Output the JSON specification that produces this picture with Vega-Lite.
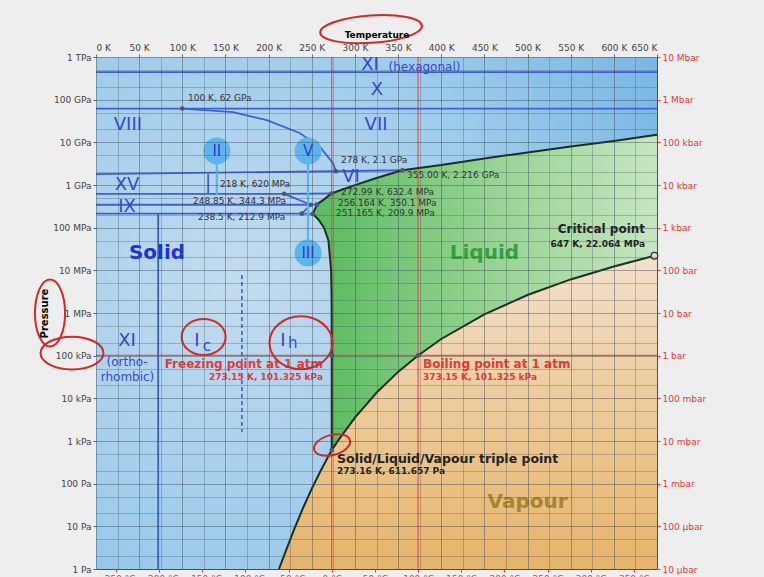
{
  "$schema": "https://vega.github.io/schema/vega-lite/v6.json",
  "width": 561,
  "height": 512,
  "autosize": {"type": "none"},
  "padding": {"left": 96, "top": 57, "right": 107, "bottom": 8},
  "background": "#eeeeee",
  "config": {"font": "DejaVu Sans", "view": {"stroke": "#555555", "strokeWidth": 1}},
  "resolve": {"axis": {"x": "independent", "y": "independent"}},
  "datasets": {
    "vap": [
      {"T": 212, "P": 1}, {"T": 220, "P": 2.65}, {"T": 230, "P": 8.9}, {"T": 240, "P": 27.3},
      {"T": 250, "P": 76}, {"T": 260, "P": 196}, {"T": 270, "P": 470}, {"T": 273.16, "P": 611.657},
      {"T": 280, "P": 991.8}, {"T": 300, "P": 3536}, {"T": 325, "P": 13500}, {"T": 350, "P": 41700},
      {"T": 373.15, "P": 101325}, {"T": 400, "P": 245800}, {"T": 450, "P": 932000}, {"T": 500, "P": 2640000},
      {"T": 550, "P": 6120000}, {"T": 600, "P": 12350000}, {"T": 647, "P": 22064000}
    ],
    "vapArea": [
      {"T": 212, "P": 1}, {"T": 220, "P": 2.65}, {"T": 230, "P": 8.9}, {"T": 240, "P": 27.3},
      {"T": 250, "P": 76}, {"T": 260, "P": 196}, {"T": 270, "P": 470}, {"T": 273.16, "P": 611.657},
      {"T": 280, "P": 991.8}, {"T": 300, "P": 3536}, {"T": 325, "P": 13500}, {"T": 350, "P": 41700},
      {"T": 373.15, "P": 101325}, {"T": 400, "P": 245800}, {"T": 450, "P": 932000}, {"T": 500, "P": 2640000},
      {"T": 550, "P": 6120000}, {"T": 600, "P": 12350000}, {"T": 647, "P": 22064000}, {"T": 650, "P": 22064000}
    ],
    "green": [
      {"T": 251.165, "P": 2.099e8, "P2": 2.099e8},
      {"T": 252.3, "P": 2.0e8, "P2": 2.4e8},
      {"T": 256.164, "P": 1.68e8, "P2": 3.501e8},
      {"T": 258.3, "P": 1.5e8, "P2": 3.8e8},
      {"T": 264.2, "P": 1.0e8, "P2": 4.6e8},
      {"T": 269.3, "P": 5e7, "P2": 5.6e8},
      {"T": 272.4, "P": 1e7, "P2": 6.2e8},
      {"T": 272.99, "P": 2.3e6, "P2": 6.324e8},
      {"T": 273.15, "P": 101325, "P2": 6.35e8},
      {"T": 273.16, "P": 611.657, "P2": 6.35e8},
      {"T": 280, "P": 991.8, "P2": 7.12e8},
      {"T": 300, "P": 3536, "P2": 9.96e8},
      {"T": 325, "P": 13500, "P2": 1.46e9},
      {"T": 350, "P": 41700, "P2": 2.07e9},
      {"T": 355, "P": 51600, "P2": 2.216e9},
      {"T": 373.15, "P": 101325, "P2": 2.52e9},
      {"T": 400, "P": 245800, "P2": 2.95e9},
      {"T": 450, "P": 932000, "P2": 4.2e9},
      {"T": 500, "P": 2640000, "P2": 5.8e9},
      {"T": 550, "P": 6120000, "P2": 8e9},
      {"T": 600, "P": 12350000, "P2": 1.07e10},
      {"T": 647, "P": 22064000, "P2": 1.45e10},
      {"T": 650, "P": 22064000, "P2": 1.5e10}
    ],
    "melt": [
      {"o": 1, "T": 273.16, "P": 611.657}, {"o": 2, "T": 273.15, "P": 101325}, {"o": 3, "T": 272.99, "P": 2.3e6},
      {"o": 4, "T": 272.4, "P": 1e7}, {"o": 5, "T": 269.3, "P": 5e7}, {"o": 6, "T": 264.2, "P": 1e8},
      {"o": 7, "T": 258.3, "P": 1.5e8}, {"o": 8, "T": 252.3, "P": 2e8}, {"o": 9, "T": 251.165, "P": 2.099e8},
      {"o": 10, "T": 256.164, "P": 3.501e8}, {"o": 11, "T": 264.2, "P": 4.6e8}, {"o": 12, "T": 272.99, "P": 6.324e8},
      {"o": 13, "T": 280, "P": 7.12e8}, {"o": 14, "T": 300, "P": 9.96e8}, {"o": 15, "T": 325, "P": 1.46e9},
      {"o": 16, "T": 350, "P": 2.07e9}, {"o": 17, "T": 355, "P": 2.216e9}, {"o": 18, "T": 400, "P": 2.95e9},
      {"o": 19, "T": 450, "P": 4.2e9}, {"o": 20, "T": 500, "P": 5.8e9}, {"o": 21, "T": 550, "P": 8e9},
      {"o": 22, "T": 600, "P": 1.07e10}, {"o": 23, "T": 650, "P": 1.5e10}
    ],
    "seg": [
      {"seg": "a", "o": 1, "T": 0, "P": 4.4e11}, {"seg": "a", "o": 2, "T": 650, "P": 4.4e11},
      {"seg": "b", "o": 1, "T": 0, "P": 6.2e10}, {"seg": "b", "o": 2, "T": 650, "P": 6.2e10},
      {"seg": "c", "o": 1, "T": 100, "P": 6.2e10}, {"seg": "c", "o": 2, "T": 158.7, "P": 5.1e10},
      {"seg": "c", "o": 3, "T": 198, "P": 3.3e10}, {"seg": "c", "o": 4, "T": 236, "P": 1.66e10},
      {"seg": "c", "o": 5, "T": 259.6, "P": 7.8e9}, {"seg": "c", "o": 6, "T": 274.6, "P": 3.25e9},
      {"seg": "c", "o": 7, "T": 278, "P": 2.1e9},
      {"seg": "d", "o": 1, "T": 0, "P": 1.8e9}, {"seg": "d", "o": 2, "T": 278, "P": 2.1e9}, {"seg": "d", "o": 3, "T": 355, "P": 2.216e9},
      {"seg": "e", "o": 1, "T": 0, "P": 6.2e8}, {"seg": "e", "o": 2, "T": 218, "P": 6.2e8}, {"seg": "e", "o": 3, "T": 272.99, "P": 6.324e8},
      {"seg": "f", "o": 1, "T": 130, "P": 6.2e8}, {"seg": "f", "o": 2, "T": 130, "P": 1.8e9},
      {"seg": "g", "o": 1, "T": 218, "P": 6.2e8}, {"seg": "g", "o": 2, "T": 248.85, "P": 3.443e8},
      {"seg": "h", "o": 1, "T": 0, "P": 3.44e8}, {"seg": "h", "o": 2, "T": 248.85, "P": 3.443e8}, {"seg": "h", "o": 3, "T": 256.164, "P": 3.501e8},
      {"seg": "i", "o": 1, "T": 0, "P": 2.13e8}, {"seg": "i", "o": 2, "T": 238.5, "P": 2.129e8}, {"seg": "i", "o": 3, "T": 251.165, "P": 2.099e8},
      {"seg": "j", "o": 1, "T": 238.5, "P": 2.129e8}, {"seg": "j", "o": 2, "T": 248.85, "P": 3.443e8},
      {"seg": "k", "o": 1, "T": 72, "P": 1}, {"seg": "k", "o": 2, "T": 72, "P": 2.13e8}
    ],
    "pts": [
      {"T": 100, "P": 6.2e10}, {"T": 278, "P": 2.1e9}, {"T": 355, "P": 2.216e9}, {"T": 218, "P": 6.2e8},
      {"T": 272.99, "P": 6.324e8}, {"T": 248.85, "P": 3.443e8}, {"T": 256.164, "P": 3.501e8},
      {"T": 238.5, "P": 2.129e8}, {"T": 251.165, "P": 2.099e8}, {"T": 273.16, "P": 611.657},
      {"T": 273.15, "P": 101325}, {"T": 373.15, "P": 101325}
    ],
    "circ": [
      {"T": 140, "P": 6.3e9, "label": "II"}, {"T": 245.7, "P": 6.3e9, "label": "V"}, {"T": 245.7, "P": 2.54e7, "label": "III"}
    ]
  },
  "layer": [
    {
      "data": {"values": [{"T": 0, "T2": 650, "P": 1, "P2": 1e12}]},
      "mark": {"type": "rect", "color": {"gradient": "radial", "x1": 0.25, "y1": 0.45, "r1": 0, "x2": 0.25, "y2": 0.45, "r2": 1.0,
        "stops": [{"offset": 0, "color": "#c3dcef"}, {"offset": 0.5, "color": "#9ccbeb"}, {"offset": 1, "color": "#6aaee0"}]}},
      "encoding": {
        "x": {"field": "T", "type": "quantitative", "scale": {"domain": [0, 650], "nice": false, "zero": false},
          "axis": {"orient": "top", "values": [0, 50, 100, 150, 200, 250, 300, 350, 400, 450, 500, 550, 600, 650],
            "labelExpr": "datum.value + ' K'", "title": "Temperature", "titleFontWeight": "bold", "titleFontSize": 9,
            "titlePadding": 4, "labelFontSize": 9, "labelColor": "#444444", "tickSize": 3, "tickColor": "#666666",
            "domain": false, "grid": true, "gridColor": "#3e4a56", "gridOpacity": 0.45, "zindex": 1}},
        "x2": {"field": "T2"},
        "y": {"field": "P", "type": "quantitative", "scale": {"type": "log", "domain": [1, 1e12], "nice": false},
          "axis": {"orient": "left", "values": [1, 10, 100, 1000, 10000, 100000, 1000000, 10000000, 100000000, 1000000000, 10000000000, 100000000000, 1000000000000],
            "labelExpr": "['1 Pa','10 Pa','100 Pa','1 kPa','10 kPa','100 kPa','1 MPa','10 MPa','100 MPa','1 GPa','10 GPa','100 GPa','1 TPa'][round(log(datum.value)/LN10)]",
            "title": "Pressure", "titleFontWeight": "bold", "titleFontSize": 10, "titlePadding": 3,
            "labelFontSize": 9, "labelColor": "#444444", "tickSize": 3, "tickColor": "#666666",
            "domain": false, "grid": true, "gridColor": "#3e4a56", "gridOpacity": 0.45, "zindex": 1}},
        "y2": {"field": "P2"}
      }
    },
    {
      "data": {"name": "vapArea"},
      "mark": {"type": "area", "color": {"gradient": "linear", "x1": 0, "y1": 0, "x2": 0, "y2": 1,
        "stops": [{"offset": 0, "color": "#f2e0cc"}, {"offset": 0.5, "color": "#ecca98"}, {"offset": 1, "color": "#e6b46a"}]}},
      "encoding": {
        "x": {"field": "T", "type": "quantitative", "scale": {"domain": [0, 650], "nice": false, "zero": false},
          "axis": {"orient": "bottom", "values": [23.15, 73.15, 123.15, 173.15, 223.15, 273.15, 323.15, 373.15, 423.15, 473.15, 523.15, 573.15, 623.15],
            "labelExpr": "format(datum.value - 273.15, 'd') + ' °C'", "labelColor": "#e23b3b", "labelFontSize": 9,
            "tickColor": "#e23b3b", "tickSize": 3, "labelPadding": 2, "domain": false, "grid": false, "title": null, "zindex": 1}},
        "y": {"field": "P", "type": "quantitative", "scale": {"type": "log", "domain": [1, 1e12], "nice": false},
          "axis": {"orient": "right", "values": [1, 10, 100, 1000, 10000, 100000, 1000000, 10000000, 100000000, 1000000000, 10000000000, 100000000000, 1000000000000],
            "labelExpr": "['10 µbar','100 µbar','1 mbar','10 mbar','100 mbar','1 bar','10 bar','100 bar','1 kbar','10 kbar','100 kbar','1 Mbar','10 Mbar'][round(log(datum.value)/LN10)]",
            "labelColor": "#e23b3b", "tickColor": "#e23b3b", "labelFontSize": 9, "tickSize": 3, "domain": false, "grid": false, "title": null, "zindex": 1}},
        "y2": {"datum": 1}
      }
    },
    {
      "data": {"name": "green"},
      "mark": {"type": "area", "color": {"gradient": "linear", "x1": 0, "y1": 0, "x2": 1, "y2": 0,
        "stops": [{"offset": 0, "color": "#58bb5e"}, {"offset": 0.45, "color": "#8fd08c"}, {"offset": 1, "color": "#c6e6c1"}]}},
      "encoding": {
        "x": {"field": "T", "type": "quantitative", "scale": {"domain": [0, 650], "nice": false, "zero": false},
          "axis": {"orient": "bottom", "values": [25, 75, 125, 175, 225, 275, 325, 375, 425, 475, 525, 575, 625],
            "labels": false, "ticks": false, "domain": false, "grid": true, "gridColor": "#3e4a56", "gridOpacity": 0.3, "title": null, "zindex": 1}},
        "y": {"field": "P", "type": "quantitative", "scale": {"type": "log", "domain": [1, 1e12], "nice": false},
          "axis": {"orient": "right", "values": [2, 5, 20, 50, 200, 500, 2e3, 5e3, 2e4, 5e4, 2e5, 5e5, 2e6, 5e6, 2e7, 5e7, 2e8, 5e8, 2e9, 5e9, 2e10, 5e10, 2e11, 5e11],
            "labels": false, "ticks": false, "domain": false, "grid": true, "gridColor": "#3e4a56", "gridOpacity": 0.3, "title": null, "zindex": 1}},
        "y2": {"field": "P2"}
      }
    },
    {
      "data": {"values": [{"T": 273.15}, {"T": 373.15}]},
      "mark": {"type": "rule", "color": "#e05555", "strokeWidth": 1.2},
      "encoding": {"x": {"field": "T", "type": "quantitative", "scale": {"domain": [0, 650], "nice": false, "zero": false}, "axis": null}}
    },
    {
      "data": {"values": [{"P": 101325}]},
      "mark": {"type": "rule", "color": "#e05555", "strokeWidth": 1.2},
      "encoding": {"y": {"field": "P", "type": "quantitative", "scale": {"type": "log", "domain": [1, 1e12], "nice": false}, "axis": null}}
    },
    {
      "data": {"name": "seg"},
      "mark": {"type": "line", "color": "#3f5fd6", "strokeWidth": 1.8},
      "encoding": {
        "x": {"field": "T", "type": "quantitative", "scale": {"domain": [0, 650], "nice": false, "zero": false}, "axis": null},
        "y": {"field": "P", "type": "quantitative", "scale": {"type": "log", "domain": [1, 1e12], "nice": false}, "axis": null},
        "detail": {"field": "seg"},
        "order": {"field": "o"}
      }
    },
    {
      "data": {"values": [{"T": 169, "P": 7.8e6, "P2": 1600}]},
      "mark": {"type": "rule", "color": "#3f5fd6", "strokeWidth": 1.6, "strokeDash": [4, 3]},
      "encoding": {
        "x": {"field": "T", "type": "quantitative", "scale": {"domain": [0, 650], "nice": false, "zero": false}, "axis": null},
        "y": {"field": "P", "type": "quantitative", "scale": {"type": "log", "domain": [1, 1e12], "nice": false}, "axis": null},
        "y2": {"field": "P2"}
      }
    },
    {
      "data": {"name": "vap"},
      "mark": {"type": "line", "color": "#1e2e22", "strokeWidth": 2},
      "encoding": {
        "x": {"field": "T", "type": "quantitative", "scale": {"domain": [0, 650], "nice": false, "zero": false}, "axis": null},
        "y": {"field": "P", "type": "quantitative", "scale": {"type": "log", "domain": [1, 1e12], "nice": false}, "axis": null}
      }
    },
    {
      "data": {"name": "melt"},
      "mark": {"type": "line", "color": "#1e2e22", "strokeWidth": 2},
      "encoding": {
        "x": {"field": "T", "type": "quantitative", "scale": {"domain": [0, 650], "nice": false, "zero": false}, "axis": null},
        "y": {"field": "P", "type": "quantitative", "scale": {"type": "log", "domain": [1, 1e12], "nice": false}, "axis": null},
        "order": {"field": "o"}
      }
    },
    {
      "data": {"values": [{"T": 140, "P": 6.3e9, "P2": 5.8e8}, {"T": 245.7, "P": 6.3e9, "P2": 2.54e7}]},
      "mark": {"type": "rule", "color": "#5cb5ee", "strokeWidth": 2.2},
      "encoding": {
        "x": {"field": "T", "type": "quantitative", "scale": {"domain": [0, 650], "nice": false, "zero": false}, "axis": null},
        "y": {"field": "P", "type": "quantitative", "scale": {"type": "log", "domain": [1, 1e12], "nice": false}, "axis": null},
        "y2": {"field": "P2"}
      }
    },
    {
      "data": {"name": "circ"},
      "mark": {"type": "point", "shape": "circle", "filled": true, "size": 729, "color": "#5cb5ee", "opacity": 1},
      "encoding": {
        "x": {"field": "T", "type": "quantitative", "scale": {"domain": [0, 650], "nice": false, "zero": false}, "axis": null},
        "y": {"field": "P", "type": "quantitative", "scale": {"type": "log", "domain": [1, 1e12], "nice": false}, "axis": null}
      }
    },
    {
      "data": {"name": "circ"},
      "mark": {"type": "text", "fontSize": 15, "color": "#2a3fc8", "align": "center", "baseline": "middle"},
      "encoding": {
        "x": {"field": "T", "type": "quantitative", "scale": {"domain": [0, 650], "nice": false, "zero": false}, "axis": null},
        "y": {"field": "P", "type": "quantitative", "scale": {"type": "log", "domain": [1, 1e12], "nice": false}, "axis": null},
        "text": {"field": "label"}
      }
    },
    {
      "data": {"name": "pts"},
      "mark": {"type": "point", "shape": "circle", "filled": true, "size": 22, "color": "#4a5a70", "opacity": 1},
      "encoding": {
        "x": {"field": "T", "type": "quantitative", "scale": {"domain": [0, 650], "nice": false, "zero": false}, "axis": null},
        "y": {"field": "P", "type": "quantitative", "scale": {"type": "log", "domain": [1, 1e12], "nice": false}, "axis": null}
      }
    },
    {
      "data": {"values": [{"T": 647, "P": 22064000}]},
      "mark": {"type": "point", "shape": "circle", "filled": false, "size": 45, "stroke": "#333333", "fill": "#dddddd", "strokeWidth": 1.3, "opacity": 1},
      "encoding": {
        "x": {"field": "T", "type": "quantitative", "scale": {"domain": [0, 650], "nice": false, "zero": false}, "axis": null},
        "y": {"field": "P", "type": "quantitative", "scale": {"type": "log", "domain": [1, 1e12], "nice": false}, "axis": null}
      }
    },
    {
      "data": {"values": [
        {"T": 317.5, "P": 6.5e11, "label": "XI"}, {"T": 325.6, "P": 1.7e11, "label": "X"},
        {"T": 37, "P": 2.5e10, "label": "VIII"}, {"T": 324.5, "P": 2.5e10, "label": "VII"},
        {"T": 295.5, "P": 1.5e9, "label": "VI"}, {"T": 36, "P": 1.0e9, "label": "XV"},
        {"T": 36, "P": 3.0e8, "label": "IX"}, {"T": 36, "P": 2.2e5, "label": "XI"},
        {"T": 117, "P": 2.2e5, "label": "I"}, {"T": 216.7, "P": 2.2e5, "label": "I"}
      ]},
      "mark": {"type": "text", "fontSize": 18, "color": "#3547d4", "align": "center", "baseline": "middle"},
      "encoding": {
        "x": {"field": "T", "type": "quantitative", "scale": {"domain": [0, 650], "nice": false, "zero": false}, "axis": null},
        "y": {"field": "P", "type": "quantitative", "scale": {"type": "log", "domain": [1, 1e12], "nice": false}, "axis": null},
        "text": {"field": "label"}
      }
    },
    {
      "data": {"values": [
        {"T": 128.6, "P": 1.7e5, "label": "c"}, {"T": 228, "P": 1.95e5, "label": "h"}
      ]},
      "mark": {"type": "text", "fontSize": 15, "color": "#3547d4", "align": "center", "baseline": "middle"},
      "encoding": {
        "x": {"field": "T", "type": "quantitative", "scale": {"domain": [0, 650], "nice": false, "zero": false}, "axis": null},
        "y": {"field": "P", "type": "quantitative", "scale": {"type": "log", "domain": [1, 1e12], "nice": false}, "axis": null},
        "text": {"field": "label"}
      }
    },
    {
      "data": {"values": [
        {"T": 380.6, "P": 5.8e11, "label": "(hexagonal)"}, {"T": 36, "P": 7.1e4, "label": "(ortho-"},
        {"T": 36.5, "P": 3.2e4, "label": "rhombic)"}
      ]},
      "mark": {"type": "text", "fontSize": 12, "color": "#3547d4", "align": "center", "baseline": "middle"},
      "encoding": {
        "x": {"field": "T", "type": "quantitative", "scale": {"domain": [0, 650], "nice": false, "zero": false}, "axis": null},
        "y": {"field": "P", "type": "quantitative", "scale": {"type": "log", "domain": [1, 1e12], "nice": false}, "axis": null},
        "text": {"field": "label"}
      }
    },
    {
      "data": {"values": [{"T": 70.7, "P": 2.6e7, "label": "Solid"}]},
      "mark": {"type": "text", "fontSize": 20, "fontWeight": "bold", "color": "#2233cc", "align": "center", "baseline": "middle"},
      "encoding": {
        "x": {"field": "T", "type": "quantitative", "scale": {"domain": [0, 650], "nice": false, "zero": false}, "axis": null},
        "y": {"field": "P", "type": "quantitative", "scale": {"type": "log", "domain": [1, 1e12], "nice": false}, "axis": null},
        "text": {"field": "label"}
      }
    },
    {
      "data": {"values": [{"T": 450, "P": 2.6e7, "label": "Liquid"}]},
      "mark": {"type": "text", "fontSize": 20, "fontWeight": "bold", "color": "#34a040", "align": "center", "baseline": "middle"},
      "encoding": {
        "x": {"field": "T", "type": "quantitative", "scale": {"domain": [0, 650], "nice": false, "zero": false}, "axis": null},
        "y": {"field": "P", "type": "quantitative", "scale": {"type": "log", "domain": [1, 1e12], "nice": false}, "axis": null},
        "text": {"field": "label"}
      }
    },
    {
      "data": {"values": [{"T": 500, "P": 37, "label": "Vapour"}]},
      "mark": {"type": "text", "fontSize": 20, "fontWeight": "bold", "color": "#a88630", "align": "center", "baseline": "middle"},
      "encoding": {
        "x": {"field": "T", "type": "quantitative", "scale": {"domain": [0, 650], "nice": false, "zero": false}, "axis": null},
        "y": {"field": "P", "type": "quantitative", "scale": {"type": "log", "domain": [1, 1e12], "nice": false}, "axis": null},
        "text": {"field": "label"}
      }
    },
    {
      "data": {"values": [
        {"T": 106.6, "P": 1.1e11, "label": "100 K, 62 GPa"},
        {"T": 283.9, "P": 3.85e9, "label": "278 K, 2.1 GPa"},
        {"T": 360.4, "P": 1.76e9, "label": "355.00 K, 2.216 GPa"},
        {"T": 143.7, "P": 1.03e9, "label": "218 K, 620 MPa"},
        {"T": 283.9, "P": 6.8e8, "label": "272.99 K, 632.4 MPa"},
        {"T": 112.4, "P": 4.2e8, "label": "248.85 K, 344.3 MPa"},
        {"T": 280.4, "P": 3.8e8, "label": "256.164 K, 350.1 MPa"},
        {"T": 118.2, "P": 1.78e8, "label": "238.5 K, 212.9 MPa"},
        {"T": 278.1, "P": 2.2e8, "label": "251.165 K, 209.9 MPa"}
      ]},
      "mark": {"type": "text", "fontSize": 9, "color": "#333333", "align": "left", "baseline": "middle"},
      "encoding": {
        "x": {"field": "T", "type": "quantitative", "scale": {"domain": [0, 650], "nice": false, "zero": false}, "axis": null},
        "y": {"field": "P", "type": "quantitative", "scale": {"type": "log", "domain": [1, 1e12], "nice": false}, "axis": null},
        "text": {"field": "label"}
      }
    },
    {
      "data": {"values": [{"T": 636.2, "P": 9.3e7, "label": "Critical point"}]},
      "mark": {"type": "text", "fontSize": 12, "fontWeight": "bold", "color": "#222222", "align": "right", "baseline": "middle"},
      "encoding": {
        "x": {"field": "T", "type": "quantitative", "scale": {"domain": [0, 650], "nice": false, "zero": false}, "axis": null},
        "y": {"field": "P", "type": "quantitative", "scale": {"type": "log", "domain": [1, 1e12], "nice": false}, "axis": null},
        "text": {"field": "label"}
      }
    },
    {
      "data": {"values": [{"T": 636.2, "P": 4.2e7, "label": "647 K, 22.064 MPa"}]},
      "mark": {"type": "text", "fontSize": 9, "fontWeight": "bold", "color": "#222222", "align": "right", "baseline": "middle"},
      "encoding": {
        "x": {"field": "T", "type": "quantitative", "scale": {"domain": [0, 650], "nice": false, "zero": false}, "axis": null},
        "y": {"field": "P", "type": "quantitative", "scale": {"type": "log", "domain": [1, 1e12], "nice": false}, "axis": null},
        "text": {"field": "label"}
      }
    },
    {
      "data": {"values": [{"T": 279.3, "P": 380, "label": "Solid/Liquid/Vapour triple point"}]},
      "mark": {"type": "text", "fontSize": 12.5, "fontWeight": "bold", "color": "#222222", "align": "left", "baseline": "middle"},
      "encoding": {
        "x": {"field": "T", "type": "quantitative", "scale": {"domain": [0, 650], "nice": false, "zero": false}, "axis": null},
        "y": {"field": "P", "type": "quantitative", "scale": {"type": "log", "domain": [1, 1e12], "nice": false}, "axis": null},
        "text": {"field": "label"}
      }
    },
    {
      "data": {"values": [{"T": 279.3, "P": 199, "label": "273.16 K, 611.657 Pa"}]},
      "mark": {"type": "text", "fontSize": 9, "fontWeight": "bold", "color": "#222222", "align": "left", "baseline": "middle"},
      "encoding": {
        "x": {"field": "T", "type": "quantitative", "scale": {"domain": [0, 650], "nice": false, "zero": false}, "axis": null},
        "y": {"field": "P", "type": "quantitative", "scale": {"type": "log", "domain": [1, 1e12], "nice": false}, "axis": null},
        "text": {"field": "label"}
      }
    },
    {
      "data": {"values": [{"T": 263, "P": 6.3e4, "label": "Freezing point at 1 atm"}]},
      "mark": {"type": "text", "fontSize": 12, "fontWeight": "bold", "color": "#e23b3b", "align": "right", "baseline": "middle"},
      "encoding": {
        "x": {"field": "T", "type": "quantitative", "scale": {"domain": [0, 650], "nice": false, "zero": false}, "axis": null},
        "y": {"field": "P", "type": "quantitative", "scale": {"type": "log", "domain": [1, 1e12], "nice": false}, "axis": null},
        "text": {"field": "label"}
      }
    },
    {
      "data": {"values": [{"T": 263, "P": 3.16e4, "label": "273.15 K, 101.325 kPa"}]},
      "mark": {"type": "text", "fontSize": 9, "fontWeight": "bold", "color": "#e23b3b", "align": "right", "baseline": "middle"},
      "encoding": {
        "x": {"field": "T", "type": "quantitative", "scale": {"domain": [0, 650], "nice": false, "zero": false}, "axis": null},
        "y": {"field": "P", "type": "quantitative", "scale": {"type": "log", "domain": [1, 1e12], "nice": false}, "axis": null},
        "text": {"field": "label"}
      }
    },
    {
      "data": {"values": [{"T": 379, "P": 6.3e4, "label": "Boiling point at 1 atm"}]},
      "mark": {"type": "text", "fontSize": 12, "fontWeight": "bold", "color": "#e23b3b", "align": "left", "baseline": "middle"},
      "encoding": {
        "x": {"field": "T", "type": "quantitative", "scale": {"domain": [0, 650], "nice": false, "zero": false}, "axis": null},
        "y": {"field": "P", "type": "quantitative", "scale": {"type": "log", "domain": [1, 1e12], "nice": false}, "axis": null},
        "text": {"field": "label"}
      }
    },
    {
      "data": {"values": [{"T": 379, "P": 3.16e4, "label": "373.15 K, 101.325 kPa"}]},
      "mark": {"type": "text", "fontSize": 9, "fontWeight": "bold", "color": "#e23b3b", "align": "left", "baseline": "middle"},
      "encoding": {
        "x": {"field": "T", "type": "quantitative", "scale": {"domain": [0, 650], "nice": false, "zero": false}, "axis": null},
        "y": {"field": "P", "type": "quantitative", "scale": {"type": "log", "domain": [1, 1e12], "nice": false}, "axis": null},
        "text": {"field": "label"}
      }
    },
    {
      "data": {"values": [{"T": 318.7, "P": 4.5e12}]},
      "mark": {"type": "point", "shape": "M -1 0 A 1 0.27 0 1 1 1 0 A 1 0.27 0 1 1 -1 0 Z", "size": 10404, "angle": -4, "filled": false, "stroke": "#d62828", "strokeWidth": 2, "opacity": 1},
      "encoding": {
        "x": {"field": "T", "type": "quantitative", "scale": {"domain": [0, 650], "nice": false, "zero": false}, "axis": null},
        "y": {"field": "P", "type": "quantitative", "scale": {"type": "log", "domain": [1, 1e12], "nice": false}, "axis": null}
      }
    },
    {
      "data": {"values": [{"T": -53.3, "P": 1e6}]},
      "mark": {"type": "point", "shape": "M 0 -1 A 0.45 1 0 1 1 0 1 A 0.45 1 0 1 1 0 -1 Z", "size": 4489, "filled": false, "stroke": "#d62828", "strokeWidth": 2, "opacity": 1},
      "encoding": {
        "x": {"field": "T", "type": "quantitative", "scale": {"domain": [0, 650], "nice": false, "zero": false}, "axis": null},
        "y": {"field": "P", "type": "quantitative", "scale": {"type": "log", "domain": [1, 1e12], "nice": false}, "axis": null}
      }
    },
    {
      "data": {"values": [{"T": -27.8, "P": 1.15e5}]},
      "mark": {"type": "point", "shape": "M -1 0 A 1 0.52 0 1 1 1 0 A 1 0.52 0 1 1 -1 0 Z", "size": 3969, "filled": false, "stroke": "#d62828", "strokeWidth": 2, "opacity": 1},
      "encoding": {
        "x": {"field": "T", "type": "quantitative", "scale": {"domain": [0, 650], "nice": false, "zero": false}, "axis": null},
        "y": {"field": "P", "type": "quantitative", "scale": {"type": "log", "domain": [1, 1e12], "nice": false}, "axis": null}
      }
    },
    {
      "data": {"values": [{"T": 124.7, "P": 2.74e5}]},
      "mark": {"type": "point", "shape": "M -1 0 A 1 0.82 0 1 1 1 0 A 1 0.82 0 1 1 -1 0 Z", "size": 1936, "filled": false, "stroke": "#d62828", "strokeWidth": 2, "opacity": 1},
      "encoding": {
        "x": {"field": "T", "type": "quantitative", "scale": {"domain": [0, 650], "nice": false, "zero": false}, "axis": null},
        "y": {"field": "P", "type": "quantitative", "scale": {"type": "log", "domain": [1, 1e12], "nice": false}, "axis": null}
      }
    },
    {
      "data": {"values": [{"T": 237.5, "P": 2e5}]},
      "mark": {"type": "point", "shape": "M -1 0 A 1 0.84 0 1 1 1 0 A 1 0.84 0 1 1 -1 0 Z", "size": 3969, "filled": false, "stroke": "#d62828", "strokeWidth": 2, "opacity": 1},
      "encoding": {
        "x": {"field": "T", "type": "quantitative", "scale": {"domain": [0, 650], "nice": false, "zero": false}, "axis": null},
        "y": {"field": "P", "type": "quantitative", "scale": {"type": "log", "domain": [1, 1e12], "nice": false}, "axis": null}
      }
    },
    {
      "data": {"values": [{"T": 273.5, "P": 805}]},
      "mark": {"type": "point", "shape": "M -1 0 A 1 0.54 0 1 1 1 0 A 1 0.54 0 1 1 -1 0 Z", "size": 1369, "angle": -15, "filled": false, "stroke": "#d62828", "strokeWidth": 2, "opacity": 1},
      "encoding": {
        "x": {"field": "T", "type": "quantitative", "scale": {"domain": [0, 650], "nice": false, "zero": false}, "axis": null},
        "y": {"field": "P", "type": "quantitative", "scale": {"type": "log", "domain": [1, 1e12], "nice": false}, "axis": null}
      }
    }
  ]
}
